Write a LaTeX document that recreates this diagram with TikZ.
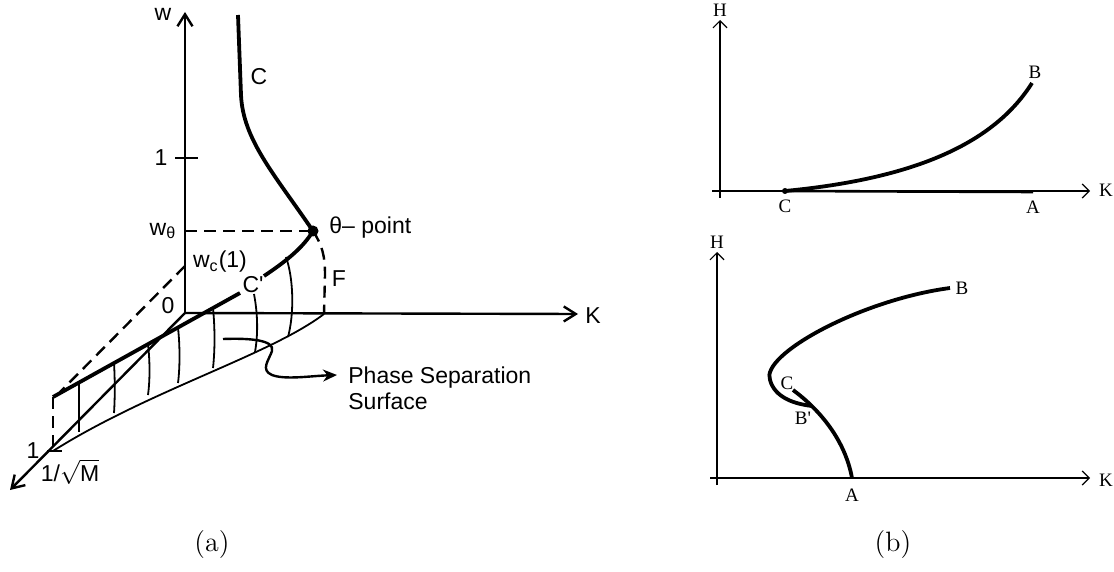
\documentclass[tikz,border=0pt]{standalone}
\usepackage{fontspec}
\newfontfamily\helvfont{Liberation Sans}
\newfontfamily\timesfont{Liberation Serif}
\usepackage{tikz}
\usetikzlibrary{arrows.meta,positioning,calc}

\begin{document}
\begin{tikzpicture}[x=0.5pt,y=-0.5pt,
  axisa/.style={line width=1.2pt, -{Straight Barb[length=6pt, width=7.5pt, line width=1.2pt]}},
  axisb/.style={line width=0.6pt, -{Straight Barb[length=3.5pt, width=7pt, line width=0.6pt]}},
  thickcurve/.style={line width=1.9pt},
  hatchline/.style={line width=0.9pt},
  dashline/.style={line width=1.2pt, dash pattern=on 6pt off 3.5pt},
  lbla/.style={font=\helvfont\fontsize{11.5}{13}\selectfont, inner sep=1pt},
  lblb/.style={font=\timesfont\fontsize{9.5}{11}\selectfont, inner sep=1pt}]
\useasboundingbox (0,0) rectangle (1114,572);

% (a)
\coordinate (O) at (185,313);
\coordinate (thp) at (313,231);
\coordinate (wc) at (185,266);
\coordinate (Mone) at (53,451);
\coordinate (Ftop) at (53,397);
\coordinate (Fbot) at (324,314);
\draw[axisa] (O) -- (185,12);
\draw[axisa] (O) -- (578,314);
\draw[axisa] (O) -- (10,490);
\draw[line width=1.2pt] (175,158) -- (198,158);
\draw[line width=1.2pt] (47,451) -- (62,451);
\draw[dashline] (185,231) -- (thp);
\draw[dashline] (wc) -- (60,392);
\draw[dashline] (Ftop) -- (53,446);
\draw[dashline] (thp) .. controls (322,245) and (325,255) .. (325,275) -- (Fbot);
\draw[thickcurve] (238,15) -- (241,95) .. controls (243,140) and (275,175) .. (thp);
\draw[thickcurve] (Ftop) -- (240,293);
\draw[thickcurve] (264,276) .. controls (285,262) and (303,248) .. (thp);
\fill (thp) circle (5.5);
\draw[hatchline] (Mone) .. controls (150,390) and (270,355) .. (Fbot);
\draw[hatchline] (79,383) -- (79,432);
\draw[hatchline] (114,363) .. controls (115,380) and (115,398) .. (114,413);
\draw[hatchline] (148,344) .. controls (150,362) and (150,380) .. (148,395);
\draw[hatchline] (178,328) .. controls (180,345) and (180,368) .. (178,383);
\draw[hatchline] (213,308) .. controls (215,328) and (215,350) .. (213,368);
\draw[hatchline] (254,294) .. controls (258,315) and (258,335) .. (255,352);
\draw[hatchline] (286,257) .. controls (294,280) and (294,315) .. (288,337);
\draw[line width=1.2pt, -{Stealth[length=7pt, width=6pt]}] (223,339) .. controls (250,338) and (275,340) .. (272,351)
  .. controls (269,360) and (260,370) .. (272,375) .. controls (285,380) and (310,376) .. (337,375);
\node[lbla] (wlbl) at (163,14) {w};
\node[lbla] (clbl) at (259,77) {C};
\node[lbla] (onew) at (161,158) {1};
\node[lbla] (wthlbl) at (163,231) {w\textsubscript{θ}};
\node[lbla, anchor=west] (thlbl) at (327,228) {θ– point};
\node[lbla] (wclbl) at (220,262) {w\textsubscript{c}(1)};
\node[lbla] (cplbl) at (253,285) {C'};
\node[lbla] (flbl) at (339,279) {F};
\node[lbla] (zlbl) at (168,306) {0};
\node[lbla] (klbl) at (593,316) {K};
\node[lbla, anchor=north west, align=left] (pslbl) at (346,364) {Phase Separation\\Surface};
\node[lbla] (onem) at (33,451) {1};
\node[lbla] (mlbl) at (70,472) {1/$\sqrt{\mbox{M}}$};

% (b) top
\coordinate (Ct) at (785,191);
\draw[axisb] (720,198) -- (720,20);
\draw[axisb] (712,191) -- (1090,191);
\draw[thickcurve] (Ct) .. controls (900,180) and (990,150) .. (1032,83);
\draw[line width=1.3pt] (Ct) -- (1033,192);
\fill (Ct) circle (3);
\node[lblb] (htop) at (720,10) {H};
\node[lblb] (ktop) at (1106,190) {K};
\node[lblb] (cbt) at (785,206) {C};
\node[lblb] (abt) at (1033,207) {A};
\node[lblb] (bbt) at (1035,72) {B};

% (b) bottom
\draw[axisb] (717,485) -- (717,252);
\draw[axisb] (710,478) -- (1090,478);
\draw[thickcurve] (950,288) .. controls (860,300) and (760,355) .. (770,380)
  .. controls (775,398) and (795,404) .. (812,406);
\draw[thickcurve] (852,478) .. controls (845,440) and (820,410) .. (793,390);
\node[lblb] (hbot) at (717,242) {H};
\node[lblb] (kbot) at (1106,480) {K};
\node[lblb] (abb) at (852,495) {A};
\node[lblb] (bbb) at (962,288) {B};
\node[lblb] (cbb) at (787,383) {C};
\node[lblb] (bpbb) at (803,418) {B'};

\node[font=\fontsize{14}{16}\selectfont] (capa) at (212,545) {(a)};
\node[font=\fontsize{14}{16}\selectfont] (capb) at (893,545) {(b)};
\end{tikzpicture}
\end{document}
